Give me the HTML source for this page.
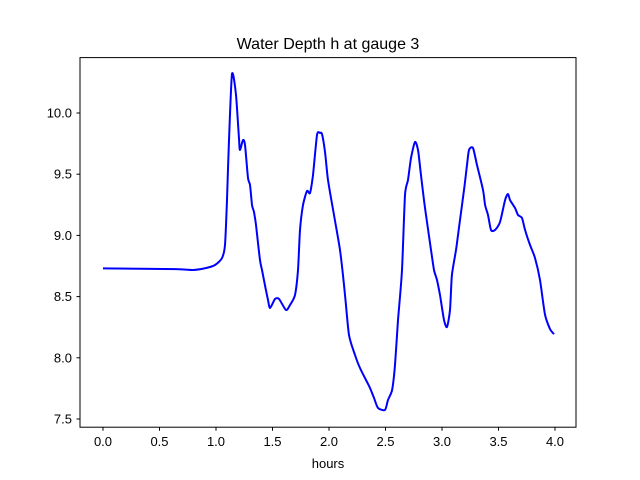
<!DOCTYPE html>
<html><head><meta charset="utf-8"><style>
body{margin:0;background:#fff;}
svg{display:block;font-family:"Liberation Sans","DejaVu Sans",sans-serif;}
</style></head><body>
<svg id="chart" width="640" height="480">
<rect width="640" height="480" fill="#fff"/>
<text x="328" y="49" text-anchor="middle" font-size="16">Water Depth h at gauge 3</text>
<g id="xt"></g><g id="yt"></g>
<path id="line" fill="none" stroke="#0000ff" stroke-width="2" stroke-linejoin="round"/>
<rect x="80" y="57.6" width="496" height="369.6" fill="none" stroke="#000" stroke-width="1"/>
<text x="328" y="468" text-anchor="middle" font-size="13">hours</text>
</svg>
<script>
const hours=[0,0.646,0.796,0.912,0.991,1.053,1.080,1.097,1.115,1.142,1.177,1.204,1.212,1.239,1.257,1.283,1.301,1.319,1.336,1.354,1.389,1.407,1.442,1.460,1.478,1.522,1.558,1.619,1.655,1.699,1.726,1.743,1.770,1.805,1.832,1.858,1.894,1.920,1.938,1.965,1.991,2.044,2.097,2.142,2.177,2.230,2.274,2.327,2.363,2.398,2.434,2.496,2.522,2.558,2.584,2.611,2.646,2.673,2.699,2.726,2.761,2.788,2.814,2.858,2.903,2.929,2.956,2.982,3.018,3.044,3.071,3.088,3.124,3.159,3.195,3.221,3.239,3.274,3.310,3.363,3.381,3.407,3.434,3.469,3.513,3.558,3.584,3.602,3.646,3.673,3.708,3.735,3.779,3.823,3.867,3.912,3.956,3.991];
const depth=[8.73,8.725,8.717,8.734,8.758,8.815,8.922,9.289,9.779,10.319,10.147,9.779,9.698,9.779,9.739,9.469,9.412,9.248,9.191,9.085,8.799,8.717,8.554,8.472,8.407,8.48,8.48,8.391,8.431,8.513,8.717,9.044,9.248,9.363,9.346,9.493,9.82,9.837,9.828,9.681,9.453,9.167,8.881,8.513,8.186,8.023,7.917,7.819,7.753,7.672,7.59,7.574,7.655,7.737,7.941,8.309,8.717,9.330,9.453,9.632,9.763,9.698,9.493,9.167,8.881,8.717,8.636,8.513,8.309,8.252,8.391,8.676,8.881,9.126,9.371,9.575,9.698,9.714,9.575,9.371,9.248,9.167,9.044,9.044,9.109,9.289,9.338,9.289,9.224,9.167,9.142,9.044,8.922,8.815,8.636,8.35,8.235,8.194,8.194];
const xTicks=[0,0.5,1,1.5,2,2.5,3,3.5,4];
const xTickLabels=["0.0","0.5","1.0","1.5","2.0","2.5","3.0","3.5","4.0"];
const yTicks=[7.5,8,8.5,9,9.5,10];
const yTickLabels=["7.5","8.0","8.5","9.0","9.5","10.0"];
const sx=h=>103+h*113;
const sy=v=>113+(10-v)*122.4;
const NS="http://www.w3.org/2000/svg";
const xt=document.getElementById('xt'),yt=document.getElementById('yt');
xTicks.forEach((t,i)=>{
  const l=document.createElementNS(NS,'line');
  l.setAttribute('x1',sx(t));l.setAttribute('x2',sx(t));l.setAttribute('y1',427.2);l.setAttribute('y2',430.7);l.setAttribute('stroke','#000');
  
  
  xt.appendChild(l);
  const tx=document.createElementNS(NS,'text');
  tx.setAttribute('x',sx(t));tx.setAttribute('y',446);tx.setAttribute('text-anchor','middle');tx.setAttribute('font-size','13');
  tx.textContent=xTickLabels[i];
  
  
  xt.appendChild(tx);
});
yTicks.forEach((t,i)=>{
  const l=document.createElementNS(NS,'line');
  l.setAttribute('x1',76.5);l.setAttribute('x2',80);l.setAttribute('y1',sy(t));l.setAttribute('y2',sy(t));l.setAttribute('stroke','#000');
  
  
  yt.appendChild(l);
  const tx=document.createElementNS(NS,'text');
  tx.setAttribute('x',72);tx.setAttribute('y',sy(t)+4.5);tx.setAttribute('text-anchor','end');tx.setAttribute('font-size','13');
  tx.textContent=yTickLabels[i];
  
  
  yt.appendChild(tx);
});
const pts=hours.map((h,i)=>[sx(h),sy(depth[i])]);
let d='M'+pts[0][0].toFixed(1)+','+pts[0][1].toFixed(1);
for(let i=0;i<pts.length-1;i++){
  const p0=pts[Math.max(0,i-1)],p1=pts[i],p2=pts[i+1],p3=pts[Math.min(pts.length-1,i+2)];
  const k=0.12;
  const c1=[p1[0]+(p2[0]-p0[0])*k,p1[1]+(p2[1]-p0[1])*k];
  const c2=[p2[0]-(p3[0]-p1[0])*k,p2[1]-(p3[1]-p1[1])*k];
  d+=' C'+c1[0].toFixed(1)+','+c1[1].toFixed(1)+' '+c2[0].toFixed(1)+','+c2[1].toFixed(1)+' '+p2[0].toFixed(1)+','+p2[1].toFixed(1);
}
document.getElementById('line').setAttribute('d',d);
</script>
</body></html>
